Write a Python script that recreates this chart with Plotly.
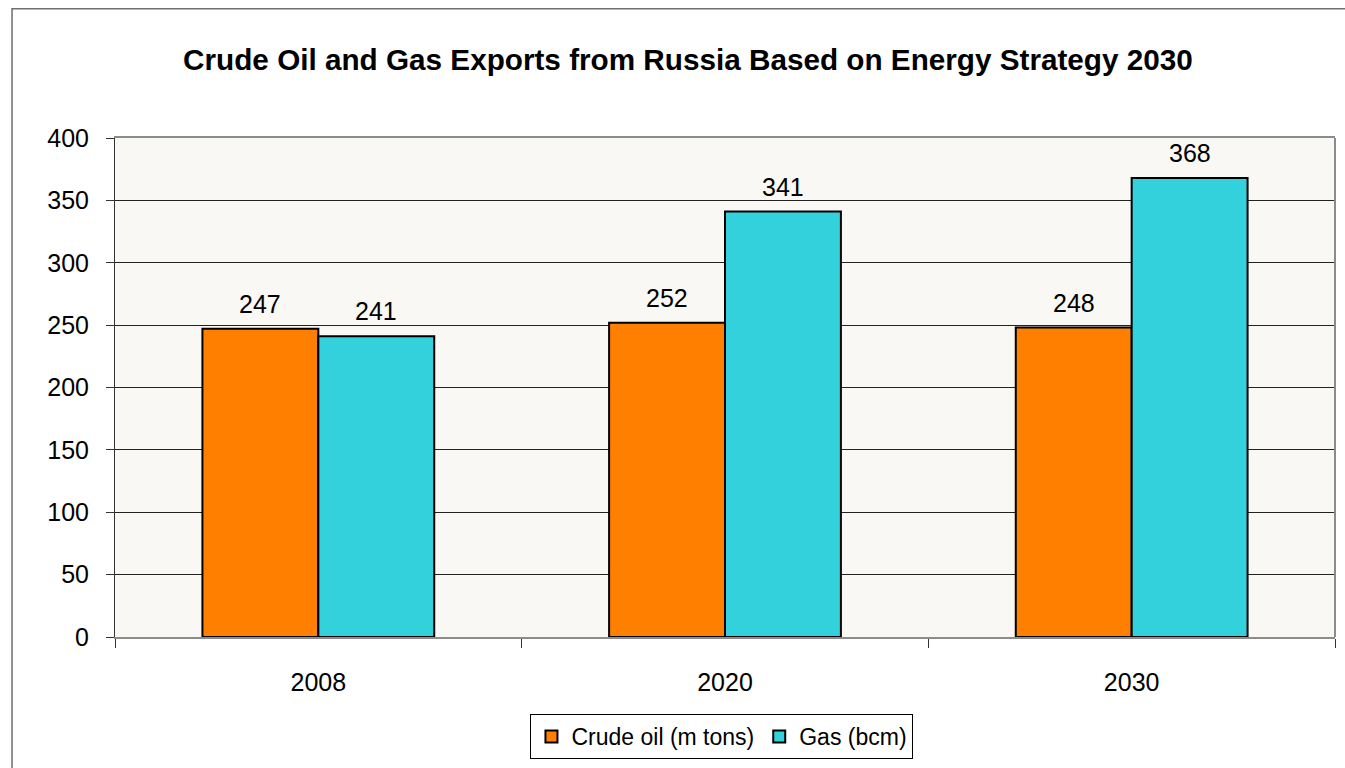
import plotly.graph_objects as go

years = ["2008", "2020", "2030"]
crude_oil = [247, 252, 248]
gas = [241, 341, 368]
y_ticks = [0, 50, 100, 150, 200, 250, 300, 350, 400]

FONT = "Liberation Sans, Arial, sans-serif"
bar_line = dict(color="#000000", width=2)
BAR_GAP = 0.43
CATEGORY_PX = 1220 / len(years)
HALF_BAR_PX = CATEGORY_PX * (1 - BAR_GAP) / 4  # offset from category centre to each bar's centre

fig = go.Figure()
fig.add_trace(go.Bar(
    x=years, y=crude_oil, name="Crude oil (m tons)",
    marker=dict(color="#FF7F00", line=bar_line),
))
fig.add_trace(go.Bar(
    x=years, y=gas, name="Gas (bcm)",
    marker=dict(color="#33D1DB", line=bar_line),
))

# value labels above each bar (category axis: position by category index)
annotations = []
for series, shift in ((crude_oil, -HALF_BAR_PX), (gas, HALF_BAR_PX)):
    for idx, val in enumerate(series):
        annotations.append(dict(
            x=idx, y=val, xref="x", yref="y",
            text=str(val), showarrow=False,
            xshift=shift, yshift=9, yanchor="bottom",
            font=dict(family=FONT, size=25, color="#000000"),
        ))

fig.update_layout(
    width=1345, height=768,
    margin=dict(l=115, r=10, t=138, b=130),
    paper_bgcolor="#FFFFFF",
    plot_bgcolor="#F9F8F4",
    barmode="group",
    bargap=BAR_GAP,
    bargroupgap=0,
    font=dict(family=FONT, size=25, color="#000000"),
    title=dict(
        text="<b>Crude Oil and Gas Exports from Russia Based on Energy Strategy 2030</b>",
        x=0.5115, xanchor="center", y=0.922, yanchor="middle",
        font=dict(family=FONT, size=29.7, color="#000000"),
    ),
    xaxis=dict(
        type="category",
        categoryorder="array", categoryarray=years,
        range=[-0.5, len(years) - 0.5],
        showgrid=False,
        showline=True, linecolor="#8C8C8C", linewidth=2, mirror=True,
        ticks="outside", tickson="boundaries", ticklen=9, tickcolor="#333333", tickwidth=1,
        tickfont=dict(family=FONT, size=25),
        ticklabelstandoff=22,
    ),
    yaxis=dict(
        range=[0, 400],
        tickvals=y_ticks,
        showgrid=True, gridcolor="#222222", gridwidth=1,
        zeroline=False,
        showline=True, linecolor="#333333", linewidth=1,
        ticks="outside", ticklen=8, tickcolor="#333333", tickwidth=1,
        tickfont=dict(family=FONT, size=25),
        ticklabelstandoff=12,
    ),
    legend=dict(
        orientation="h",
        x=0.4975, xanchor="center",
        y=-0.152, yanchor="top",
        bgcolor="#FFFFFF",
        bordercolor="#000000", borderwidth=1,
        font=dict(family=FONT, size=23),
        traceorder="normal",
    ),
    annotations=annotations,
    shapes=[
        # right edge of the plot area
        dict(type="line", xref="paper", yref="paper", x0=1, x1=1, y0=0, y1=1,
             line=dict(color="#8C8C8C", width=2)),
        # outer chart frame
        dict(type="rect", xref="paper", yref="paper",
             x0=-0.0844, x1=1.03, y0=-0.3, y1=1.259,
             line=dict(color="#6E6E6E", width=1.5), fillcolor="rgba(0,0,0,0)",
             layer="below"),
    ],
)

fig.write_html("out.html")
